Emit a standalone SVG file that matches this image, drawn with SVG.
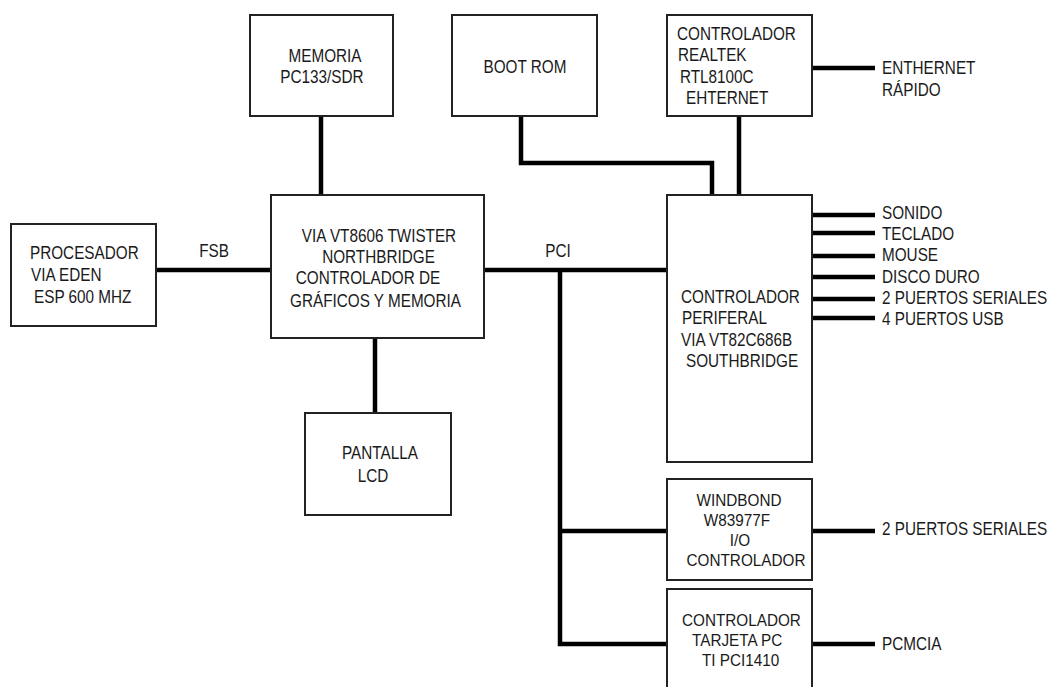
<svg xmlns="http://www.w3.org/2000/svg" width="1055" height="687" viewBox="0 0 1055 687">
<style>
.box{fill:#fff;stroke:#222;stroke-width:2}
.w{fill:none;stroke:#000;stroke-width:4.5;stroke-linecap:butt;stroke-linejoin:miter}
.t{font-family:"Liberation Sans",Arial,sans-serif;font-size:18px;fill:#1a1a1a}
.s{font-size:17px}
.m{text-anchor:middle}
</style>
<rect width="1055" height="687" fill="#fff"/>
<g id="connectors">
<path class="w" d="M321 116V195"/>
<path class="w" d="M521 116V163H712V195"/>
<path class="w" d="M739 116V195"/>
<path class="w" d="M812 68H875"/>
<path class="w" d="M156 270H271"/>
<path class="w" d="M484 270H667"/>
<path class="w" d="M560 270V644H667"/>
<path class="w" d="M560 531H667"/>
<path class="w" d="M375 338V413"/>
<path class="w" d="M812 215H875M812 233H875M812 256H875M812 277H875M812 299H875M812 318H875"/>
<path class="w" d="M812 531H875"/>
<path class="w" d="M812 644H875"/>
<text class="t m" transform="translate(214,257) scale(.85,1)">FSB</text>
<text class="t m" transform="translate(558,257) scale(.85,1)">PCI</text>
</g>
<g id="memoria">
<rect class="box" x="250" y="15" width="143" height="101"/>
<text class="t m" transform="translate(325,62) scale(.85,1)">MEMORIA</text>
<text class="t m" transform="translate(322,83) scale(.85,1)">PC133/SDR</text>
</g>
<g id="bootrom">
<rect class="box" x="452" y="15" width="145" height="101"/>
<text class="t m" transform="translate(525,73) scale(.85,1)">BOOT ROM</text>
</g>
<g id="realtek">
<rect class="box" x="667" y="15" width="145" height="101"/>
<text class="t" transform="translate(677,40) scale(.85,1)">CONTROLADOR</text>
<text class="t" transform="translate(678,61) scale(.85,1)">REALTEK</text>
<text class="t" transform="translate(680,83) scale(.85,1)">RTL8100C</text>
<text class="t" transform="translate(686,104) scale(.85,1)">EHTERNET</text>
</g>
<g id="ethernet-label">
<text class="t" transform="translate(882,74) scale(.85,1)">ENTHERNET</text>
<text class="t" transform="translate(882,96) scale(.85,1)">RÁPIDO</text>
</g>
<g id="procesador">
<rect class="box" x="11" y="224" width="145" height="102"/>
<text class="t" transform="translate(30,259) scale(.85,1)">PROCESADOR</text>
<text class="t" transform="translate(31,281) scale(.85,1)">VIA EDEN</text>
<text class="t" transform="translate(34,303) scale(.85,1)">ESP 600 MHZ</text>
</g>
<g id="northbridge">
<rect class="box" x="271" y="195" width="213" height="143"/>
<text class="t m" transform="translate(379,242) scale(.85,1)">VIA VT8606 TWISTER</text>
<text class="t m" transform="translate(378.5,263) scale(.85,1)">NORTHBRIDGE</text>
<text class="t m" transform="translate(368,284) scale(.85,1)">CONTROLADOR DE</text>
<text class="t m" transform="translate(375.5,307) scale(.85,1)">GRÁFICOS Y MEMORIA</text>
</g>
<g id="southbridge">
<rect class="box" x="667" y="195" width="145" height="267"/>
<text class="t" transform="translate(681,303) scale(.85,1)">CONTROLADOR</text>
<text class="t" transform="translate(682,324) scale(.85,1)">PERIFERAL</text>
<text class="t" transform="translate(681,346) scale(.85,1)">VIA VT82C686B</text>
<text class="t" transform="translate(686,367) scale(.85,1)">SOUTHBRIDGE</text>
</g>
<g id="south-labels">
<text class="t" transform="translate(882,219) scale(.85,1)">SONIDO</text>
<text class="t" transform="translate(882,240) scale(.85,1)">TECLADO</text>
<text class="t" transform="translate(882,261) scale(.85,1)">MOUSE</text>
<text class="t" transform="translate(882,283) scale(.85,1)">DISCO DURO</text>
<text class="t" transform="translate(882,304) scale(.85,1)">2 PUERTOS SERIALES</text>
<text class="t" transform="translate(882,325) scale(.85,1)">4 PUERTOS USB</text>
</g>
<g id="lcd">
<rect class="box" x="305" y="413" width="146" height="102"/>
<text class="t m" transform="translate(380,459) scale(.85,1)">PANTALLA</text>
<text class="t m" transform="translate(373,482) scale(.85,1)">LCD</text>
</g>
<g id="windbond">
<rect class="box" x="667" y="479" width="145" height="101"/>
<text class="t s m" transform="translate(739,506) scale(.9,1)">WINDBOND</text>
<text class="t s m" transform="translate(737,526) scale(.9,1)">W83977F</text>
<text class="t s m" transform="translate(740,546) scale(.9,1)">I/O</text>
<text class="t s m" transform="translate(746,566) scale(.9,1)">CONTROLADOR</text>
<text class="t" transform="translate(882,535) scale(.85,1)">2 PUERTOS SERIALES</text>
</g>
<g id="tarjeta">
<rect class="box" x="667" y="589" width="145" height="120"/>
<text class="t s" transform="translate(682,626) scale(.9,1)">CONTROLADOR</text>
<text class="t s" transform="translate(692,646) scale(.9,1)">TARJETA PC</text>
<text class="t s" transform="translate(702,666) scale(.9,1)">TI PCI1410</text>
<text class="t" transform="translate(882,650) scale(.85,1)">PCMCIA</text>
</g>
</svg>
